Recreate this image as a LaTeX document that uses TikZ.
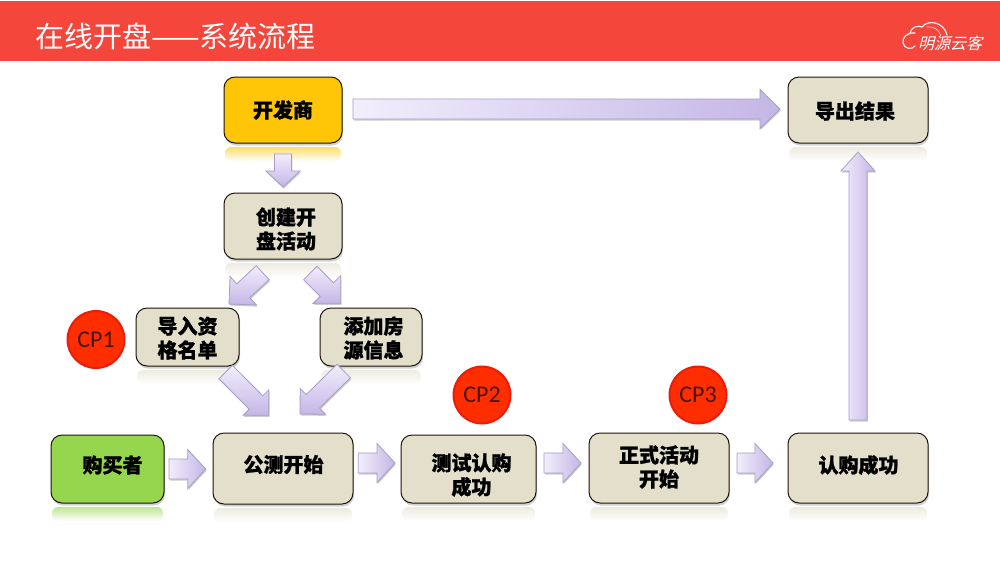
\documentclass[tikz,border=0pt]{standalone}
\usepackage{fontspec}
\usetikzlibrary{calc,shadows,fadings}
\setmainfont{Carlito}
\newfontfamily\cjk[BoldFeatures={FakeBold=1.2}]{Noto Sans CJK SC}
\newfontfamily\cjklogo[FakeSlant=0.25]{Noto Sans CJK SC}
\definecolor{barred}{HTML}{F5463C}
\definecolor{boxfill}{HTML}{E3DFCB}
\definecolor{boxgold}{HTML}{FFC608}
\definecolor{boxgreen}{HTML}{96D64F}
\definecolor{arrlight}{HTML}{F2EEFC}
\definecolor{arrdark}{HTML}{C4B6E6}
\definecolor{arredge}{HTML}{A79DC6}
\definecolor{cpred}{HTML}{FF2E00}
\definecolor{cpedge}{HTML}{EC1C0C}
\definecolor{cptext}{HTML}{4A1408}
\tikzset{
  x=1pt,y=-1pt,
  flowbox/.style={draw=black!85!brown,line width=1pt,rounded corners=11pt,fill=boxfill,align=center,
    inner sep=0pt},
  flowtext/.style={font=\cjk\bfseries\fontsize{20}{24}\selectfont,align=center,text=black,inner sep=0pt},
  cp/.style={circle,draw=cpedge,line width=2pt,fill=cpred,minimum size=57pt,inner sep=0pt,
    font=\fontsize{24}{26}\selectfont,text=cptext},
  blockarrow/.style={draw=arredge,line width=.8pt,line join=miter,top color=arrlight,bottom color=arrdark},
  blockarrowh/.style={draw=arredge,line width=.8pt,line join=miter,left color=arrlight,right color=arrdark},
  arrowshadow/.style={fill=black,opacity=.2,draw=none,transform canvas={xshift=.8pt,yshift=-1.6pt}},
}
% #1 style, #2 tail, #3 tip, #4 half shaft, #5 half head, #6 head length
\newcommand\blockarr[6]{%
  \coordinate (neck) at ($(#3)!#6pt!(#2)$);
  \foreach \sty in {arrowshadow,#1}{
  \path[\sty]
    ($(#2)!#4pt!90:(#3)$) -- ($(neck)!#4pt!90:(#3)$) -- ($(neck)!#5pt!90:(#3)$) -- (#3)
    -- ($(neck)!#5pt!-90:(#3)$) -- ($(neck)!#4pt!-90:(#3)$) -- ($(#2)!#4pt!-90:(#3)$) -- cycle;
  }
}
% #1 name, #2 x0, #3 y0, #4 x1, #5 y1, #6 fill, #7 text, #8 text offset
\newcommand\flownode[8]{%
  \fill[#6,path fading=south,opacity=.6,rounded corners=6pt] (#2+1,#5+4) rectangle (#4-1,#5+18);
  \fill[black,opacity=.18,rounded corners=11pt] (#2+1,#3+2) rectangle (#4+1,#5+2.5);
  \node[flowbox,fill=#6,minimum width={(#4-#2)*1pt},minimum height={(#5-#3)*1pt}] (#1)
     at ({(#2+#4)/2},{(#3+#5)/2}) {};
  \node[flowtext] (#1t) at ($(#1)+(#8)$) {#7};
}
\begin{document}
\begin{tikzpicture}
\useasboundingbox (0,0) rectangle (1000,563);
\fill[white] (0,0) rectangle (1000,563);
\fill[barred] (0,1) rectangle (1000,61);
\node[anchor=west,inner sep=0pt,text=white,font=\cjk\fontsize{29}{32}\selectfont] (title) at (35,36) {在线开盘——系统流程};

% logo
\draw[white,line width=1.1pt,line cap=round] (915,33) .. controls (907,32) and (902,38) .. (903,43)
   .. controls (904,49) and (912,50) .. (915,46);
\draw[white,line width=1.1pt,line cap=round] (910,33) .. controls (911,27) and (918,25) .. (922,27)
   .. controls (928,19) and (944,22) .. (947,35);
\draw[white,line width=.6pt,line cap=round] (927,27) .. controls (934,26) and (939,30) .. (941,36);
\node[anchor=west,inner sep=0pt,text=white,font=\cjklogo\fontsize{16}{18}\selectfont] (logo) at (918,43) {明源云客};

\flownode{dev}{224}{77}{342}{143}{boxgold}{开发商}{0,0}
\flownode{res}{788}{77}{928}{143}{boxfill}{导出结果}{-3,1}
\flownode{cre}{224}{193}{342}{259}{boxfill}{创建开\\盘活动}{3,3}
\flownode{imp}{136}{308}{239}{366}{boxfill}{导入资\\格名单}{0,1}
\flownode{add}{320}{308}{422}{366}{boxfill}{添加房\\源信息}{2.5,1}
\flownode{buy}{51}{435}{164}{503}{boxgreen}{购买者}{5,-4}
\flownode{pub}{213}{433}{353}{504}{boxfill}{公测开始}{0.5,-4}
\flownode{tst}{401}{435}{536}{503}{boxfill}{测试认购\\成功}{3,6}
\flownode{off}{589}{433}{729}{503}{boxfill}{正式活动\\开始}{0,-1}
\flownode{suc}{788}{433}{928}{503}{boxfill}{认购成功}{0.5,-3}

\node[cp] (cp1) at (96,339.5) {CP1};
\node[cp] (cp2) at (482,395) {CP2};
\node[cp] (cp3) at (698,395) {CP3};

\coordinate (t1) at (353,109); \coordinate (h1) at (780,109);
\blockarr{blockarrowh}{t1}{h1}{10}{19.5}{20}
\coordinate (t2) at (283,154); \coordinate (h2) at (283,187);
\blockarr{blockarrow}{t2}{h2}{8.5}{17}{16}
\coordinate (t3) at (858,420); \coordinate (h3) at (858,152);
\blockarr{blockarrowh}{t3}{h3}{9}{17}{19}
\coordinate (t4) at (262.7,272.7); \coordinate (h4) at (229,304);
\blockarr{blockarrow}{t4}{h4}{9.5}{19.5}{19.5}
\coordinate (t5) at (310.3,273); \coordinate (h5) at (340.7,303.3);
\blockarr{blockarrow}{t5}{h5}{9.5}{19.5}{19.5}
\coordinate (t6) at (225.7,372); \coordinate (h6) at (268.7,415.3);
\blockarr{blockarrow}{t6}{h6}{9.5}{18}{18}
\coordinate (t7) at (343.7,371); \coordinate (h7) at (300,414);
\blockarr{blockarrow}{t7}{h7}{9.5}{18}{18}
\coordinate (t8) at (169,469); \coordinate (h8) at (205.7,469);
\blockarr{blockarrowh}{t8}{h8}{10}{19.5}{18}
\coordinate (t9) at (358.3,463); \coordinate (h9) at (395,463);
\blockarr{blockarrowh}{t9}{h9}{10}{19.5}{18}
\coordinate (t10) at (544,463); \coordinate (h10) at (581,463);
\blockarr{blockarrowh}{t10}{h10}{10}{19.5}{18}
\coordinate (t11) at (737,463); \coordinate (h11) at (773,463);
\blockarr{blockarrowh}{t11}{h11}{10}{19.5}{18}
\end{tikzpicture}
\end{document}
